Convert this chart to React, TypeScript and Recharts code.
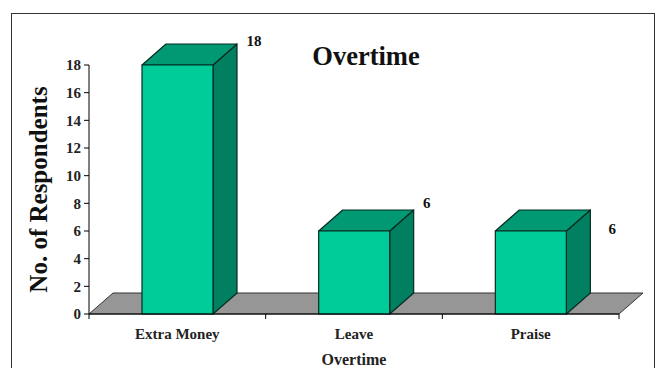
import { BarChart, Bar, XAxis, YAxis, Label, LabelList, usePlotArea } from "recharts";

const CATEGORIES = ["Extra Money", "Leave", "Praise"];
const RESPONDENTS = [18, 6, 6];
const Y_TICKS = [0, 2, 4, 6, 8, 10, 12, 14, 16, 18];

const SERIF = '"Liberation Serif", "Times New Roman", serif';
const DEPTH_X = 24;
const DEPTH_Y = 21;

// value labels sit loose around the top-right corner of each box
const LABEL_NUDGE = [
    { dx: 41, dy: -24 },
    { dx: 37, dy: -28 },
    { dx: 46, dy: -2 },
];

const data = CATEGORIES.map((name, i) => ({ name, value: RESPONDENTS[i] }));

function Floor() {
    const plot = usePlotArea();
    if (!plot) return null;
    const { x, y, width, height } = plot;
    const base = y + height;
    const edges = CATEGORIES.map((_, i) => x + (width * (i + 1)) / CATEGORIES.length);
    return (
        <g>
            <path
                d={`M${x},${base} L${x + DEPTH_X},${base - DEPTH_Y} H${x + width + DEPTH_X} L${x + width},${base} Z`}
                fill="#969696"
                stroke="#333"
                strokeWidth={1}
            />
            <line x1={x} x2={x} y1={base} y2={base + 5} stroke="#000" />
            {edges.map((ex) => (
                <line key={ex} x1={ex} x2={ex} y1={base} y2={base + 5} stroke="#000" />
            ))}
        </g>
    );
}

function Box(props: any) {
    const { x, y, width, height } = props;
    const r = x + width;
    const b = y + height;
    return (
        <g stroke="#062b20" strokeWidth={1.2} strokeLinejoin="round">
            <path
                d={`M${r},${y} L${r + DEPTH_X},${y - DEPTH_Y} V${b - DEPTH_Y} L${r},${b} Z`}
                fill="#008060"
            />
            <path
                d={`M${x},${y} L${x + DEPTH_X},${y - DEPTH_Y} H${r + DEPTH_X} L${r},${y} Z`}
                fill="#009973"
            />
            <rect x={x} y={y} width={width} height={height} fill="#00CC99" />
        </g>
    );
}

function ValueLabel(props: any) {
    const { x, y, width, index, value } = props;
    const nudge = LABEL_NUDGE[index];
    return (
        <text
            x={x + width + nudge.dx}
            y={y + nudge.dy}
            textAnchor="middle"
            dominantBaseline="central"
            fontFamily={SERIF}
            fontSize={15}
            fontWeight="bold"
            fill="#111"
        >
            {value}
        </text>
    );
}

export default function App() {
    return (
        <div style={{ position: "absolute", left: 0, top: 0, width: 658, height: 368, overflow: "hidden", background: "#fff" }}>
            <div
                style={{
                    position: "absolute",
                    left: 11,
                    top: 13,
                    width: 642,
                    height: 370,
                    border: "1px solid #333",
                }}
            />
            <div style={{ position: "absolute", left: 0, top: 0 }}>
                <BarChart
                    width={658}
                    height={368}
                    data={data}
                    barCategoryGap="30%"
                    margin={{ top: 65, right: 39, bottom: 0, left: 29 }}
                >
                    <Floor />
                    <XAxis
                        dataKey="name"
                        height={54}
                        tickLine={false}
                        axisLine={{ stroke: "#000" }}
                        tickMargin={8}
                        tick={{ fontFamily: SERIF, fontSize: 15, fontWeight: "bold", fill: "#222" }}
                    >
                        <Label
                            value="Overtime"
                            position="insideBottom"
                            offset={3}
                            style={{ fontFamily: SERIF, fontSize: 16, fontWeight: "bold", fill: "#222" }}
                        />
                    </XAxis>
                    <YAxis
                        width={60}
                        domain={[0, 18]}
                        ticks={Y_TICKS}
                        interval={0}
                        tickSize={5}
                        tickMargin={3}
                        axisLine={{ stroke: "#000" }}
                        tickLine={{ stroke: "#000" }}
                        tick={{ fontFamily: SERIF, fontSize: 15, fontWeight: "bold", fill: "#222" }}
                    >
                        <Label
                            value="No. of Respondents"
                            angle={-90}
                            position="insideLeft"
                            offset={9}
                            style={{ textAnchor: "middle", fontFamily: SERIF, fontSize: 25, fontWeight: "bold", fill: "#111" }}
                        />
                    </YAxis>
                    <Bar dataKey="value" shape={Box} isAnimationActive={false}>
                        <LabelList dataKey="value" content={ValueLabel} />
                    </Bar>
                    <text
                        x={366}
                        y={56}
                        textAnchor="middle"
                        dominantBaseline="central"
                        fontFamily={SERIF}
                        fontSize={26.5}
                        fontWeight="bold"
                        fill="#111"
                    >
                        Overtime
                    </text>
                </BarChart>
            </div>
        </div>
    );
}
